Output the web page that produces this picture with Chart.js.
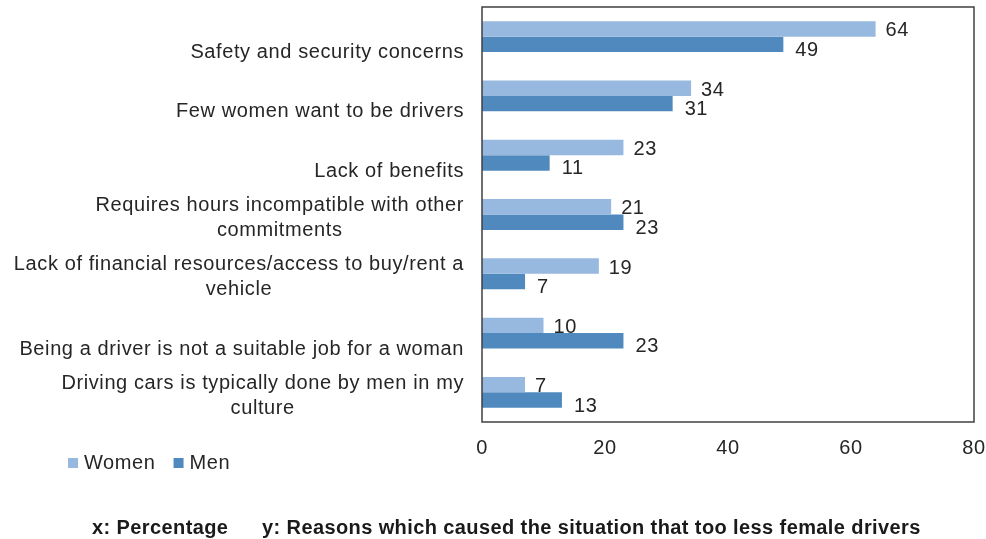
<!DOCTYPE html>
<html>
<head>
<meta charset="utf-8">
<script src="https://cdn.jsdelivr.net/npm/chart.js@4.4.1/dist/chart.umd.min.js"></script>
<style>
    html, body { margin: 0; padding: 0; background: #fff; }
    #wrap { width: 986px; height: 539px; }
</style>
</head>
<body>
<div id="wrap"><canvas id="driversChart" width="986" height="539"></canvas></div>
<script>
// reasons, split where the label wraps
const reasons = [
    ['Safety and security concerns'],
    ['Few women want to be drivers'],
    ['Lack of benefits'],
    ['Requires hours incompatible with other', 'commitments'],
    ['Lack of financial resources/access to buy/rent a', 'vehicle'],
    ['Being a driver is not a suitable job for a woman'],
    ['Driving cars is typically done by men in my', 'culture']
];
const women = [64, 34, 23, 21, 19, 10, 7];
const men = [49, 31, 11, 23, 7, 23, 13];
const xTicks = [0, 20, 40, 60, 80];
const seriesNames = ['Women', 'Men'];
const seriesColors = ['#97B9E0', '#4F89BD'];

const FONT = '"Liberation Sans", Arial, sans-serif';
const TEXT = '#262626';

// slightly loose spacing for all text on the canvas
const spacing = {
    id: 'spacing',
    beforeDraw(chart) {
        chart.ctx.letterSpacing = '0.6px';
    }
};

// frame, category labels, value labels, legend and axis note
const decorations = {
    id: 'decorations',
    afterDraw(chart) {
        const ctx = chart.ctx;
        const area = chart.chartArea;
        const yScale = chart.scales.y;

        ctx.save();
        ctx.letterSpacing = '0.6px';
        ctx.strokeStyle = '#404040';
        ctx.lineWidth = 1.5;
        ctx.strokeRect(area.left, area.top, area.right - area.left, area.bottom - area.top);

        // category labels: right aligned block, lines centred inside it, bottom anchored
        ctx.font = '20px ' + FONT;
        ctx.fillStyle = TEXT;
        ctx.textAlign = 'center';
        ctx.textBaseline = 'middle';
        const rightEdge = area.left - 18;
        const lineH = 25;
        reasons.forEach((lines, i) => {
            const cy = yScale.getPixelForTick(i);
            const blockW = Math.max(...lines.map(l => ctx.measureText(l).width));
            const cx = rightEdge - blockW / 2;
            lines.forEach((line, j) => {
                const fromBottom = lines.length - 1 - j;
                ctx.fillText(line, cx, cy + 16 - fromBottom * lineH);
            });
        });

        // value labels next to each bar
        ctx.textAlign = 'left';
        chart.data.datasets.forEach((ds, d) => {
            const meta = chart.getDatasetMeta(d);
            meta.data.forEach((bar, i) => {
                const dx = d === 0 ? 10 : 12;
                const dy = d === 0 ? 2 : 6;
                ctx.fillText(String(ds.data[i]), bar.x + dx, bar.y + dy);
            });
        });

        // legend
        const legendY = 463;
        let lx = 68;
        seriesNames.forEach((name, k) => {
            ctx.fillStyle = seriesColors[k];
            ctx.fillRect(lx, legendY - 5, 10, 10);
            ctx.fillStyle = TEXT;
            ctx.fillText(name, lx + 16, legendY);
            lx += 16 + ctx.measureText(name).width + 18;
        });

        // axis note
        ctx.font = 'bold 20px ' + FONT;
        ctx.letterSpacing = '0.4px';
        ctx.fillStyle = '#1a1a1a';
        ctx.fillText('x: Percentage', 92, 528);
        ctx.fillText('y: Reasons which caused the situation that too less female drivers', 262, 528);
        ctx.restore();
    }
};

const ctx = document.getElementById('driversChart').getContext('2d');
const driversChart = new Chart(ctx, {
    type: 'bar',
    data: {
        labels: reasons,
        datasets: [
            { label: seriesNames[0], data: women, backgroundColor: seriesColors[0] },
            { label: seriesNames[1], data: men, backgroundColor: seriesColors[1] }
        ]
    },
    options: {
        indexAxis: 'y',
        responsive: false,
        devicePixelRatio: 1,
        animation: false,
        categoryPercentage: 0.52,
        barPercentage: 1,
        layout: { padding: { left: 0, top: 7, right: 12, bottom: 0 } },
        plugins: {
            legend: { display: false },
            tooltip: { enabled: false }
        },
        scales: {
            x: {
                min: 0,
                max: 80,
                afterFit(scale) {
                    scale.height = 117;
                    scale.paddingLeft = 0;
                    scale.paddingRight = 0;
                },
                afterBuildTicks(scale) { scale.ticks = xTicks.map(v => ({ value: v })); },
                grid: { display: false, drawTicks: false },
                border: { display: false },
                ticks: {
                    padding: 14,
                    color: TEXT,
                    font: { family: FONT, size: 20 }
                }
            },
            y: {
                afterFit(scale) { scale.width = 482; },
                grid: { display: false, drawTicks: false },
                border: { display: false },
                ticks: { display: false }
            }
        }
    },
    plugins: [spacing, decorations]
});
</script>
</body>
</html>
